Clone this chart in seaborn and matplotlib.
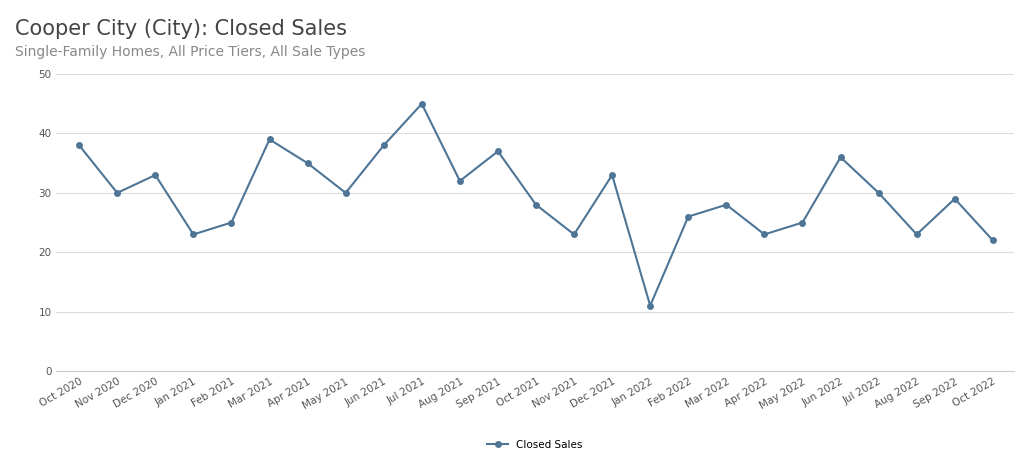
import matplotlib
matplotlib.use("Agg")
import matplotlib.pyplot as plt
import seaborn as sns
import pandas as pd

months = ["Oct 2020","Nov 2020","Dec 2020","Jan 2021","Feb 2021","Mar 2021","Apr 2021","May 2021",
          "Jun 2021","Jul 2021","Aug 2021","Sep 2021","Oct 2021","Nov 2021","Dec 2021","Jan 2022",
          "Feb 2022","Mar 2022","Apr 2022","May 2022","Jun 2022","Jul 2022","Aug 2022","Sep 2022","Oct 2022"]
closed_sales = [38,30,33,23,25,39,35,30,38,45,32,37,28,23,33,11,26,28,23,25,36,30,23,29,22]
yticks = [0,10,20,30,40,50]

df = pd.DataFrame({"x": range(len(months)), "Closed Sales": closed_sales})
color = "#4e7596"
plt.rcParams["font.family"] = "DejaVu Sans"
fig = plt.figure(figsize=(10.24, 4.69), dpi=100)
ax = fig.add_axes([0.055, 0.209, 0.935, 0.633])
sns.lineplot(data=df, x="x", y="Closed Sales", ax=ax, color=color, marker="o",
             markersize=5, markeredgewidth=0, linewidth=1.5, label="Closed Sales")
ax.set_xlim(-0.6, len(months) - 0.45)
ax.set_ylim(0, 50)
ax.set_yticks(yticks)
ax.set_xticks(range(len(months)))
ax.set_xticklabels(months, rotation=30, ha="right", rotation_mode="anchor", fontsize=7.5, color="#555555")
ax.tick_params(axis="y", labelsize=7.5, colors="#555555", length=0)
ax.tick_params(axis="x", length=0, pad=4)
ax.grid(axis="y", color="#dddddd", linewidth=0.8)
ax.set_axisbelow(True)
for s in ["top", "right", "left"]:
    ax.spines[s].set_visible(False)
ax.spines["bottom"].set_color("#cccccc")
ax.set_xlabel("")
ax.set_ylabel("")
ax.legend(loc="upper center", bbox_to_anchor=(0.5, -0.2), frameon=False, fontsize=7.5)
fig.text(0.015, 0.925, "Cooper City (City): Closed Sales", fontsize=15, color="#444444")
fig.text(0.015, 0.88, "Single-Family Homes, All Price Tiers, All Sale Types", fontsize=10, color="#888888")
fig.savefig("out.png", dpi=100)
